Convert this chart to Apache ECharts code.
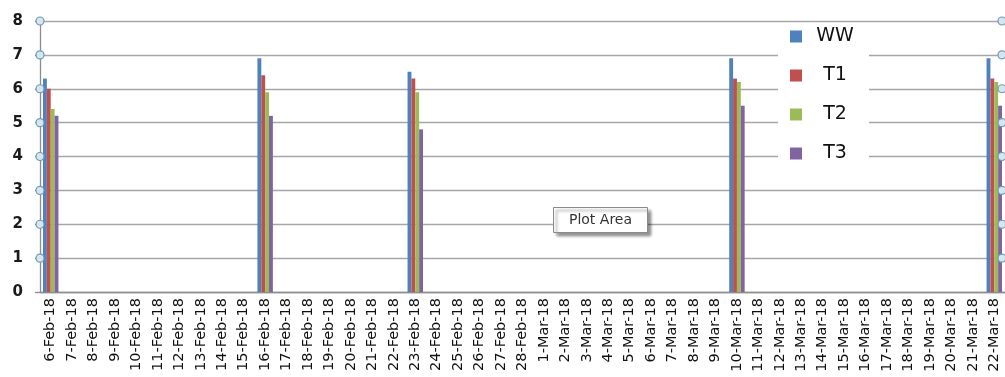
<!DOCTYPE html>
<html>
<head>
<meta charset="utf-8">
<script src="https://cdn.jsdelivr.net/npm/echarts@6/dist/echarts.min.js"></script>
<style>
  html, body { margin: 0; padding: 0; background: #fff; }
  #chart { width: 1005px; height: 377px; }
</style>
</head>
<body>
<div id="chart"></div>
<script>
// every day on the axis, 6-Feb-18 .. 22-Mar-18
var dates = [
  '6-Feb-18', '7-Feb-18', '8-Feb-18', '9-Feb-18', '10-Feb-18', '11-Feb-18', '12-Feb-18',
  '13-Feb-18', '14-Feb-18', '15-Feb-18', '16-Feb-18', '17-Feb-18', '18-Feb-18', '19-Feb-18',
  '20-Feb-18', '21-Feb-18', '22-Feb-18', '23-Feb-18', '24-Feb-18', '25-Feb-18', '26-Feb-18',
  '27-Feb-18', '28-Feb-18', '1-Mar-18', '2-Mar-18', '3-Mar-18', '4-Mar-18', '5-Mar-18',
  '6-Mar-18', '7-Mar-18', '8-Mar-18', '9-Mar-18', '10-Mar-18', '11-Mar-18', '12-Mar-18',
  '13-Mar-18', '14-Mar-18', '15-Mar-18', '16-Mar-18', '17-Mar-18', '18-Mar-18', '19-Mar-18',
  '20-Mar-18', '21-Mar-18', '22-Mar-18'
];
// days that have measurements
var sampleDates = ['6-Feb-18', '16-Feb-18', '23-Feb-18', '10-Mar-18', '22-Mar-18'];
var ww = [6.3, 6.9, 6.5, 6.9, 6.9];
var t1 = [6.0, 6.4, 6.3, 6.3, 6.3];
var t2 = [5.4, 5.9, 5.9, 6.2, 6.2];
var t3 = [5.2, 5.2, 4.8, 5.5, 5.5];
var yTicks = [0, 1, 2, 3, 4, 5, 6, 7, 8];

var names = ['WW', 'T1', 'T2', 'T3'];
var colors = ['#4F81BD', '#C0504D', '#9BBB59', '#8064A2'];

function spread(vals) {
  return dates.map(function (d) {
    var i = sampleDates.indexOf(d);
    return i < 0 ? null : vals[i];
  });
}

var chart = echarts.init(document.getElementById('chart'));
var font = 'DejaVu Sans';

var series = [ww, t1, t2, t3].map(function (vals, i) {
  return {
    name: names[i],
    type: 'bar',
    data: spread(vals),
    barGap: '0%',
    barCategoryGap: '28%',
    itemStyle: { color: colors[i] }
  };
});

var option = {
  animation: false,
  textStyle: { fontFamily: font },
  grid: { left: 40, top: 21, width: 966, height: 271 },
  legend: {
    orient: 'vertical',
    left: 778,
    top: 24,
    padding: [1, 14, 8, 12],
    itemGap: 16,
    itemWidth: 12,
    itemHeight: 12,
    itemStyle: { borderWidth: 0 },
    icon: 'rect',
    backgroundColor: '#fff',
    formatter: '{a|{name}}',
    textStyle: {
      fontSize: 19, color: '#111', fontFamily: font, lineHeight: 23,
      rich: { a: { fontSize: 19, width: 40, align: 'center', padding: [0, 0, 0, 8] } }
    },
    data: names
  },
  xAxis: {
    type: 'category',
    data: dates,
    boundaryGap: true,
    axisLine: { lineStyle: { color: '#8c8c8c', width: 1.3 } },
    axisTick: { interval: 0, length: 5, lineStyle: { color: '#8c8c8c', width: 1.3 } },
    axisLabel: { interval: 0, rotate: 90, margin: 6, fontSize: 14.5, color: '#111' }
  },
  yAxis: {
    type: 'value',
    min: yTicks[0],
    max: yTicks[yTicks.length - 1],
    interval: 1,
    axisLine: { show: true, lineStyle: { color: '#8c8c8c', width: 1.3 } },
    axisTick: { show: true, length: 5, lineStyle: { color: '#8c8c8c', width: 1.3 } },
    splitLine: { lineStyle: { color: '#a6a6a6', width: 1.3 } },
    axisLabel: { fontSize: 15, fontWeight: 'bold', margin: 17, color: '#1a1a1a' }
  },
  series: series
};
chart.setOption(option);

// selection handles on the plot area edges and the "Plot Area" hint box
var rect = chart.getModel().getComponent('grid').coordinateSystem.getRect();
var graphics = [];
yTicks.slice(1).forEach(function (v) {
  var y = chart.convertToPixel({ yAxisIndex: 0 }, v);
  [rect.x, rect.x + rect.width - 3].forEach(function (x) {
    graphics.push({
      type: 'circle',
      shape: { cx: x, cy: y, r: 4 },
      style: { fill: '#d6e6ee', stroke: '#6f9ab3', lineWidth: 1.2 },
      z: 100
    });
  });
});
graphics.push({
  type: 'group',
  left: 553,
  top: 207,
  z: 100,
  children: [
    {
      type: 'rect',
      shape: { x: 0, y: 0, width: 94, height: 25 },
      style: {
        fill: '#fff', stroke: '#8a8a8a', lineWidth: 1,
        shadowColor: 'rgba(0,0,0,0.45)', shadowOffsetX: 3, shadowOffsetY: 3, shadowBlur: 3
      }
    },
    {
      type: 'text',
      x: 47,
      y: 13,
      style: {
        text: 'Plot Area', fontSize: 14, fontFamily: font, fill: '#333',
        align: 'center', verticalAlign: 'middle'
      }
    }
  ]
});
chart.setOption({ graphic: graphics });
</script>
</body>
</html>
